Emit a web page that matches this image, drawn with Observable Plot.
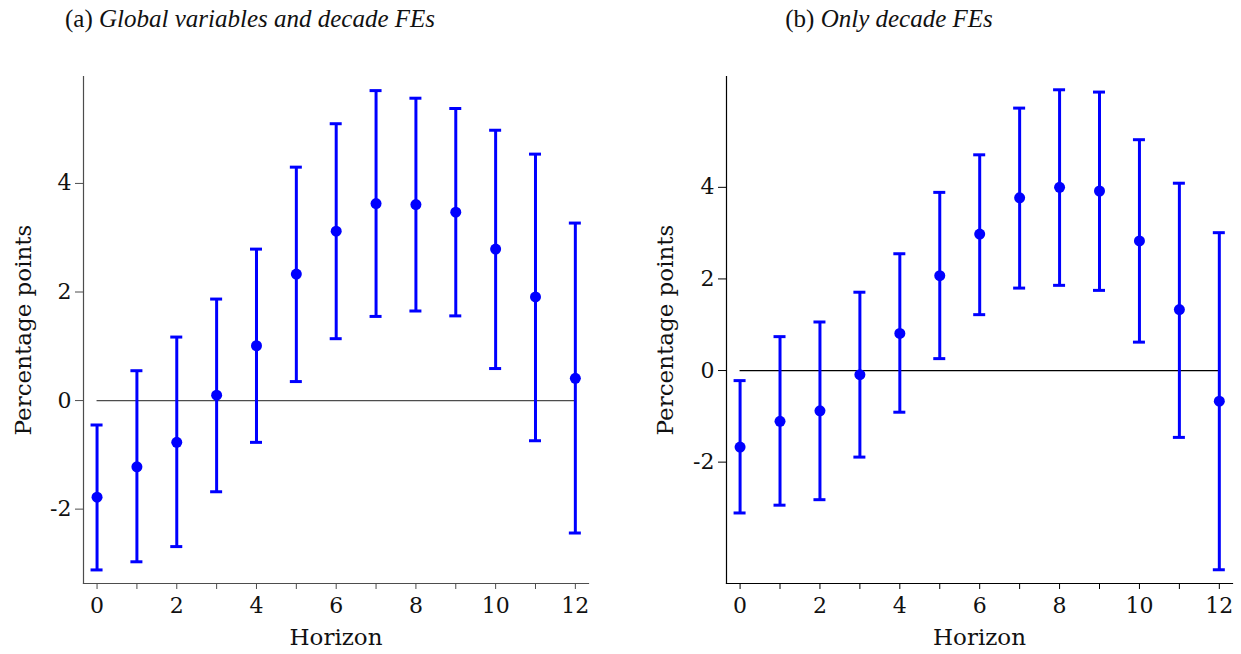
<!DOCTYPE html>
<html>
<head>
<meta charset="utf-8">
<script src="https://cdn.jsdelivr.net/npm/d3@7"></script>
<script src="https://cdn.jsdelivr.net/npm/@observablehq/plot@0.6"></script>
<style>
  html, body { margin: 0; padding: 0; background: #fff; }
  #wrap { position: relative; width: 1241px; height: 654px; overflow: hidden; font-family: "DejaVu Serif", serif; }
  .title { position: absolute; top: 5px; width: 500px; text-align: center; font-family: "Liberation Serif", serif; font-size: 25px; color: #111; white-space: nowrap; }
  .title i { font-style: italic; }
  .panel { position: absolute; top: 40px; }
</style>
</head>
<body>
<div id="wrap">
  <div class="title" style="left:0px">(a) <i>Global variables and decade FEs</i></div>
  <div class="title" style="left:639px">(b) <i>Only decade FEs</i></div>
  <div class="panel" id="pa" style="left:0px"></div>
  <div class="panel" id="pb" style="left:620px"></div>
</div>
<script>
// Data
const horizon = [0, 1, 2, 3, 4, 5, 6, 7, 8, 9, 10, 11, 12];

// Panel (a): Global variables and decade FEs
const coefA = [-1.78, -1.22, -0.77, 0.10, 1.01, 2.33, 3.12, 3.63, 3.61, 3.47, 2.79, 1.91, 0.41];
const loA   = [-3.12, -2.97, -2.69, -1.68, -0.77, 0.35, 1.14, 1.55, 1.65, 1.56, 0.59, -0.74, -2.44];
const hiA   = [-0.45, 0.55, 1.17, 1.87, 2.79, 4.30, 5.10, 5.71, 5.57, 5.38, 4.98, 4.54, 3.27];

// Panel (b): Only decade FEs
const coefB = [-1.67, -1.11, -0.88, -0.09, 0.81, 2.07, 2.98, 3.77, 4.00, 3.92, 2.83, 1.33, -0.67];
const loB   = [-3.11, -2.94, -2.82, -1.89, -0.91, 0.26, 1.22, 1.80, 1.86, 1.75, 0.62, -1.46, -4.35];
const hiB   = [-0.22, 0.74, 1.06, 1.71, 2.55, 3.89, 4.71, 5.73, 6.13, 6.08, 5.04, 4.09, 3.01];

// Tick labels
const xTicks = [0, 2, 4, 6, 8, 10, 12];
const xMinorTicks = [1, 3, 5, 7, 9, 11];
const yTicks = [-2, 0, 2, 4];
const xLabel = "Horizon";
const yLabel = "Percentage points";

function rows(coef, lo, hi) {
  return horizon.map((h, i) => ({h, coef: coef[i], lo: lo[i], hi: hi[i]}));
}

function panel({data, width, marginLeft, marginRight, yDomain, axisColor, zeroColor, ylabelDx}) {
  const blue = "#0000ff";
  return Plot.plot({
    width,
    height: 614,
    marginLeft,
    marginRight,
    marginTop: 36,
    marginBottom: 71,
    style: {fontFamily: "'DejaVu Serif', serif", fontSize: "22px", color: "#111", background: "#fff"},
    x: {domain: [-0.34, 12.33]},
    y: {domain: yDomain},
    marks: [
      Plot.frame({anchor: "left", stroke: axisColor, strokeWidth: 1.2}),
      Plot.frame({anchor: "bottom", stroke: axisColor, strokeWidth: 1.2}),
      Plot.axisY({ticks: yTicks, tickSize: 8, tickPadding: 4, tickFormat: d => String(d), label: null, stroke: axisColor, fill: "#111"}),
      Plot.axisX({ticks: xTicks, tickSize: 6, tickPadding: 8, tickFormat: d => String(d), label: null, stroke: axisColor, fill: "#111"}),
      Plot.axisX({ticks: xMinorTicks, tickSize: 6, text: null, label: null, stroke: axisColor}),
      Plot.ruleY([0], {x1: horizon[0], x2: horizon[horizon.length - 1], stroke: zeroColor, strokeWidth: 1.2}),
      Plot.ruleX(data, {x: "h", y1: "lo", y2: "hi", stroke: blue, strokeWidth: 3}),
      Plot.ruleY(data, {y: "lo", x1: "h", x2: "h", insetLeft: -6, insetRight: -6, stroke: blue, strokeWidth: 3}),
      Plot.ruleY(data, {y: "hi", x1: "h", x2: "h", insetLeft: -6, insetRight: -6, stroke: blue, strokeWidth: 3}),
      Plot.dot(data, {x: "h", y: "coef", r: 5.5, fill: blue, stroke: "none"}),
      Plot.text([xLabel], {frameAnchor: "bottom", dy: 54, textAnchor: "middle", lineAnchor: "middle", fontSize: 23, fill: "#111"}),
      Plot.text([yLabel], {frameAnchor: "left", dx: ylabelDx, textAnchor: "middle", lineAnchor: "middle", rotate: -90, fontSize: 23, fill: "#111"})
    ]
  });
}

document.getElementById("pa").appendChild(panel({
  data: rows(coefA, loA, hiA),
  width: 620, marginLeft: 83, marginRight: 32,
  yDomain: [-3.37, 5.97], axisColor: "#4d4d4d", zeroColor: "#4d4d4d", ylabelDx: -60
}));
document.getElementById("pb").appendChild(panel({
  data: rows(coefB, loB, hiB),
  width: 621, marginLeft: 106, marginRight: 9,
  yDomain: [-4.65, 6.42], axisColor: "#000", zeroColor: "#000", ylabelDx: -61
}));
</script>
</body>
</html>
